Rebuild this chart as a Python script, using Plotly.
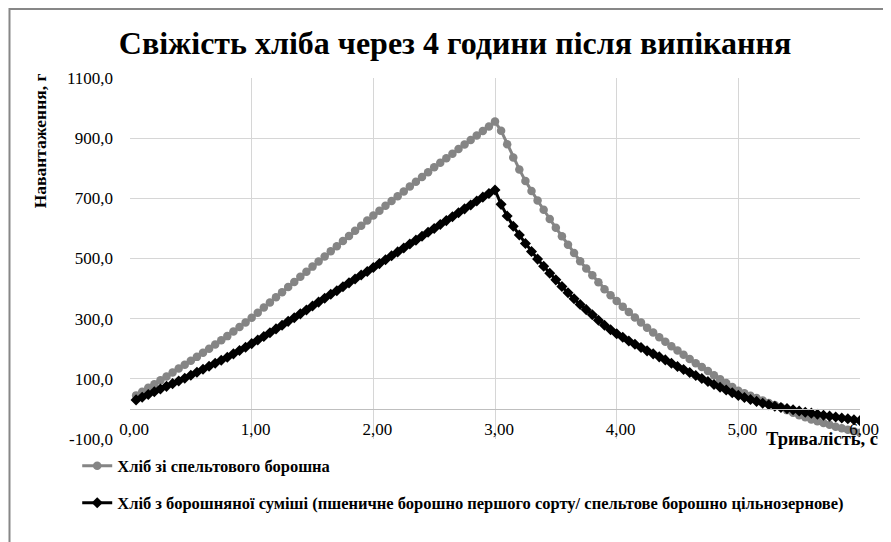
import plotly.graph_objects as go

# ---------------- data ----------------
time_s = [
    0.05, 0.10, 0.15, 0.20, 0.25, 0.30, 0.35, 0.40, 0.45, 0.50,
    0.55, 0.60, 0.65, 0.70, 0.75, 0.80, 0.85, 0.90, 0.95, 1.00,
    1.05, 1.10, 1.15, 1.20, 1.25, 1.30, 1.35, 1.40, 1.45, 1.50,
    1.55, 1.60, 1.65, 1.70, 1.75, 1.80, 1.85, 1.90, 1.95, 2.00,
    2.05, 2.10, 2.15, 2.20, 2.25, 2.30, 2.35, 2.40, 2.45, 2.50,
    2.55, 2.60, 2.65, 2.70, 2.75, 2.80, 2.85, 2.90, 2.95, 3.00,
    3.05, 3.10, 3.15, 3.20, 3.25, 3.30, 3.35, 3.40, 3.45, 3.50,
    3.55, 3.60, 3.65, 3.70, 3.75, 3.80, 3.85, 3.90, 3.95, 4.00,
    4.05, 4.10, 4.15, 4.20, 4.25, 4.30, 4.35, 4.40, 4.45, 4.50,
    4.55, 4.60, 4.65, 4.70, 4.75, 4.80, 4.85, 4.90, 4.95, 5.00,
    5.05, 5.10, 5.15, 5.20, 5.25, 5.30, 5.35, 5.40, 5.45, 5.50,
    5.55, 5.60, 5.65, 5.70, 5.75, 5.80, 5.85, 5.90, 5.95, 6.00,
]

spelt_bread = [
    45, 57, 70, 82, 95, 108, 121, 134, 147, 160,
    173, 187, 200, 214, 228, 242, 257, 272, 287, 303,
    320, 337, 354, 371, 388, 405, 422, 439, 456, 473,
    490, 507, 524, 541, 558, 575, 592, 609, 626, 643,
    659, 675, 691, 707, 723, 739, 755, 771, 787, 803,
    818, 833, 848, 864, 879, 894, 909, 924, 939, 955,
    925, 880, 836, 796, 758, 724, 693, 662, 631, 602,
    574, 546, 518, 491, 467, 444, 421, 398, 378, 359,
    340, 322, 304, 287, 270, 254, 238, 223, 208, 194,
    180, 166, 152, 139, 126, 112, 99, 86, 73, 60,
    52, 44, 36, 28, 20, 13, 6, -4, -13, -21,
    -28, -35, -41, -47, -53, -59, -64, -69, -74, -79,
]

mix_bread = [
    30, 39, 48, 57, 66, 75, 84, 93, 102, 112,
    122, 132, 142, 152, 162, 172, 183, 194, 205, 217,
    229, 241, 253, 266, 278, 291, 303, 316, 329, 342,
    355, 368, 381, 393, 406, 419, 432, 445, 457, 470,
    483, 496, 509, 522, 535, 548, 561, 574, 587, 600,
    613, 626, 639, 652, 665, 678, 691, 704, 716, 728,
    680, 641, 607, 578, 550, 523, 498, 474, 451, 429,
    407, 386, 366, 347, 330, 313, 295, 278, 263, 250,
    238, 226, 215, 204, 193, 183, 173, 163, 152, 141,
    131, 121, 111, 101, 91, 81, 72, 63, 54, 45,
    38, 31, 25, 19, 14, 9, 5, 1, -3, -7,
    -11, -14, -18, -21, -24, -27, -30, -33, -36, -39,
]

y_tick_vals = [-100, 100, 300, 500, 700, 900, 1100]
y_tick_text = ["-100,0", "100,0", "300,0", "500,0", "700,0", "900,0", "1100,0"]
x_tick_vals = [0, 1, 2, 3, 4, 5, 6]
x_tick_text = ["0,00", "1,00", "2,00", "3,00", "4,00", "5,00", "6,00"]

series_names = [
    "Хліб зі спельтового борошна",
    "Хліб з борошняної суміші (пшеничне борошно першого сорту/ спельтове борошно цільнозернове)",
]
title_text = "Свіжість хліба через 4 години після випікання"
y_title = "Навантаження, г"
x_title = "Тривалість, с"

# ---------------- layout geometry ----------------
# the page body has an 8px margin, so the figure starts at page (8, 8)
OFF = 8
W, H = 883, 534
PLOT_L, PLOT_R, PLOT_T, PLOT_B = 130, 863, 78, 439   # page pixels
L, T = PLOT_L - OFF, PLOT_T - OFF
R, B = W - (PLOT_R - OFF), H - (PLOT_B - OFF)
PW, PH = PLOT_R - PLOT_L, PLOT_B - PLOT_T
FONT = "Liberation Serif, Times New Roman, Tinos, serif"
GRID = "#d6d6d6"


def px_x(p):
    return (p - PLOT_L) / PW


def px_y(p):
    return (PLOT_B - p) / PH


fig = go.Figure()
fig.add_trace(go.Scatter(
    x=time_s, y=spelt_bread, mode="lines+markers", name=series_names[0],
    line=dict(color="#858585", width=3),
    marker=dict(symbol="circle", size=8.5, color="#858585"),
    legend="legend", showlegend=True,
))
fig.add_trace(go.Scatter(
    x=time_s, y=mix_bread, mode="lines+markers", name=series_names[1],
    line=dict(color="#000000", width=3),
    marker=dict(symbol="diamond", size=8.5, color="#000000"),
    legend="legend2", showlegend=True,
))

fig.update_layout(
    width=W, height=H,
    margin=dict(l=L, r=R, t=T, b=B, pad=0),
    showlegend=True,
    paper_bgcolor="white", plot_bgcolor="white",
    font=dict(family=FONT, color="#000000", size=15),
    title=dict(text=title_text, x=(455 - OFF) / W, xanchor="center",
               y=1 - (43 - OFF) / H, yanchor="middle",
               font=dict(family=FONT, size=32, weight="bold", color="#000")),
    xaxis=dict(range=[0, 6], tickvals=x_tick_vals, ticktext=x_tick_text,
               showgrid=True, gridcolor=GRID, gridwidth=1,
               zeroline=False, showline=True, linecolor="#bfbfbf", linewidth=1,
               anchor="free", position=100 / 1200, ticks="",
               ticklabelstandoff=5, ticklabelshift=4,
               tickfont=dict(family=FONT, size=17, color="#000")),
    yaxis=dict(range=[-100, 1100], tickvals=y_tick_vals, ticktext=y_tick_text,
               showgrid=True, gridcolor=GRID, gridwidth=1,
               zeroline=False, showline=False, ticks="",
               ticklabelstandoff=16,
               tickfont=dict(family=FONT, size=17, color="#000")),
    legend=dict(x=px_x(77), y=px_y(466), xanchor="left", yanchor="middle",
                bgcolor="rgba(0,0,0,0)",
                font=dict(family=FONT, size=16.5, weight="bold", color="#000")),
    legend2=dict(x=px_x(77), y=px_y(503), xanchor="left", yanchor="middle",
                 bgcolor="rgba(0,0,0,0)",
                 font=dict(family=FONT, size=16.5, weight="bold", color="#000")),
    annotations=[
        dict(text=y_title, xref="paper", yref="paper", x=px_x(40), y=px_y(141),
             xanchor="center", yanchor="middle", textangle=-90, showarrow=False,
             font=dict(family=FONT, size=17.5, weight="bold", color="#000")),
        dict(text=x_title, xref="paper", yref="paper", x=px_x(767), y=px_y(439),
             xanchor="left", yanchor="middle", showarrow=False,
             font=dict(family=FONT, size=18.5, weight="bold", color="#000")),
    ],
    shapes=[
        dict(type="rect", xref="paper", yref="paper",
             x0=px_x(9), y0=px_y(700), x1=px_x(1000), y1=px_y(9),
             line=dict(color="#878787", width=2), fillcolor="rgba(0,0,0,0)",
             layer="below"),
    ],
)

fig.write_html("out.html")
